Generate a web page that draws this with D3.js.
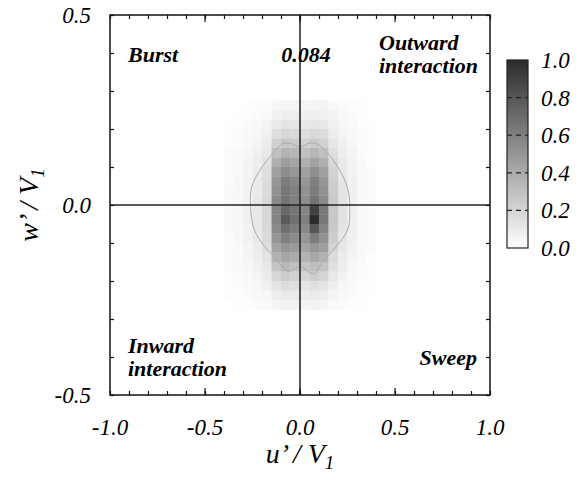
<!DOCTYPE html>
<html>
<head>
<meta charset="utf-8">
<script src="https://cdn.jsdelivr.net/npm/d3@7"></script>
<style>
  body { margin: 0; background: #fff; }
  text { font-family: "Liberation Serif", "Times New Roman", serif; }
</style>
</head>
<body>
<div id="canvas"></div>
<script>
// left edges of the u' bins (width 0.05) and top edges of the w' bins (height 0.025)
const uBins = [-0.4, -0.35, -0.3, -0.25, -0.2, -0.15, -0.1, -0.05, 0, 0.05, 0.1, 0.15, 0.2, 0.25, 0.3, 0.35];
const wBins = [0.275, 0.25, 0.225, 0.2, 0.175, 0.15, 0.125, 0.1, 0.075, 0.05, 0.025, 0,
               -0.025, -0.05, -0.075, -0.1, -0.125, -0.15, -0.175, -0.2, -0.225, -0.25];
// normalised joint pdf, percent, one row per w' bin
const pdf = [
  [0,0,1,1,2,4,5,5,5,5,5,3,2,1,1,0],
  [0,1,1,2,3,6,8,8,7,8,7,5,3,2,1,0],
  [1,1,2,3,5,10,13,12,11,12,11,7,4,3,1,1],
  [1,2,3,4,7,15,19,18,16,18,16,9,5,3,2,1],
  [1,2,3,5,9,22,27,25,22,25,22,12,7,4,2,1],
  [2,3,4,7,11,30,36,34,30,34,30,15,8,5,2,1],
  [2,3,5,8,13,38,46,42,38,44,38,18,10,6,3,1],
  [2,3,5,9,15,45,54,50,45,53,45,21,11,6,3,2],
  [2,4,6,10,16,50,62,57,50,60,50,23,12,7,3,2],
  [3,4,6,10,17,52,65,60,52,62,52,24,13,7,3,2],
  [3,4,6,11,18,55,66,60,54,66,55,25,13,7,3,2],
  [3,4,7,11,19,58,72,65,58,90,64,26,14,7,3,2],
  [3,4,7,11,19,58,78,68,60,100,64,26,14,7,3,2],
  [3,4,6,11,18,55,68,62,56,80,58,25,13,7,3,2],
  [2,4,6,10,17,50,60,55,50,62,52,23,12,7,3,2],
  [2,3,5,9,15,43,50,48,43,50,45,21,11,6,3,2],
  [2,3,5,8,13,36,42,40,36,41,36,17,9,5,3,1],
  [2,3,4,7,11,28,33,30,28,31,28,14,8,4,2,1],
  [1,2,3,5,9,19,24,22,20,23,20,11,6,3,2,1],
  [1,2,3,4,7,13,16,15,13,15,13,8,4,3,1,1],
  [1,1,2,3,4,8,10,10,9,10,9,5,3,2,1,0],
  [0,1,1,2,3,5,6,6,5,6,5,3,2,1,1,0]
];
// outer contour line [u', w']
const contour = [
  [0, 0.153], [0.07, 0.164], [0.14, 0.14], [0.219, 0.083], [0.256, 0.031],
  [0.262, -0.02], [0.25, -0.066], [0.19, -0.11], [0.125, -0.145], [0.088, -0.175],
  [0.06, -0.18], [0, -0.162], [-0.055, -0.174], [-0.085, -0.166], [-0.14, -0.135],
  [-0.205, -0.097], [-0.246, -0.057], [-0.26, -0.004], [-0.254, 0.048], [-0.21, 0.092],
  [-0.158, 0.127], [-0.114, 0.153], [-0.079, 0.163], [-0.035, 0.16]
];
const xTicks = [-1.0, -0.5, 0.0, 0.5, 1.0];
const yTicks = [-0.5, 0.0, 0.5];
const barTicks = [0.0, 0.2, 0.4, 0.6, 0.8, 1.0];

const svg = d3.select("#canvas").append("svg")
    .attr("width", 586)
    .attr("height", 480);

const x = d3.scaleLinear().domain([-1, 1]).range([110, 490]);
const y = d3.scaleLinear().domain([-0.5, 0.5]).range([395, 15]);
const color = d3.scaleLinear().domain([0, 1]).range(["#ffffff", "#2c2c2c"]).clamp(true);

// heatmap cells
const cells = [];
wBins.forEach(function (w, i) {
    uBins.forEach(function (u, j) {
        cells.push({u: u, w: w, v: pdf[i][j] / 100});
    });
});
svg.append("g").selectAll("rect")
    .data(cells)
    .join("rect")
    .attr("x", d => x(d.u))
    .attr("y", d => y(d.w))
    .attr("width", x(0.05) - x(0) + 0.3)
    .attr("height", y(0) - y(0.025) + 0.3)
    .attr("fill", d => color(d.v));

svg.append("path")
    .datum(contour)
    .attr("d", d3.line().x(d => x(d[0])).y(d => y(d[1])).curve(d3.curveCardinalClosed))
    .attr("fill", "none")
    .attr("stroke", "#aaa")
    .attr("stroke-width", 1);

// quadrant lines
svg.append("line")
    .attr("x1", x(0)).attr("x2", x(0)).attr("y1", y(0.5)).attr("y2", y(-0.5))
    .attr("stroke", "#222").attr("stroke-width", 1.5);
svg.append("line")
    .attr("x1", x(-1)).attr("x2", x(1)).attr("y1", y(0)).attr("y2", y(0))
    .attr("stroke", "#222").attr("stroke-width", 1.5);

// frame with inward ticks
const xAxisB = d3.axisTop(x).ticks(20).tickSize(4).tickFormat("");
const xAxisT = d3.axisBottom(x).ticks(20).tickSize(4).tickFormat("");
const yAxisL = d3.axisRight(y).ticks(10).tickSize(4).tickFormat("");
const yAxisR = d3.axisLeft(y).ticks(10).tickSize(4).tickFormat("");
[[xAxisB, "translate(0,395)"], [xAxisT, "translate(0,15)"],
 [yAxisL, "translate(110,0)"], [yAxisR, "translate(490,0)"]].forEach(function (a) {
    const g = svg.append("g").attr("transform", a[1]).call(a[0]);
    g.select(".domain").remove();
    g.selectAll("line").attr("stroke", "#111").attr("stroke-width", 1.2);
});
// longer ticks at the labelled values
svg.append("g").selectAll("line").data(xTicks.slice(1, 4)).join("line")
    .attr("x1", d => x(d)).attr("x2", d => x(d)).attr("y1", 395).attr("y2", 388)
    .attr("stroke", "#111").attr("stroke-width", 1.2);
svg.append("g").selectAll("line").data(xTicks.slice(1, 4)).join("line")
    .attr("x1", d => x(d)).attr("x2", d => x(d)).attr("y1", 15).attr("y2", 22)
    .attr("stroke", "#111").attr("stroke-width", 1.2);
svg.append("rect")
    .attr("x", 110).attr("y", 15).attr("width", 380).attr("height", 380)
    .attr("fill", "none").attr("stroke", "#111").attr("stroke-width", 1.5);

// tick labels
svg.append("g").selectAll("text").data(xTicks).join("text")
    .attr("x", d => x(d)).attr("y", 435)
    .attr("text-anchor", "middle")
    .style("font-size", "23px").style("font-style", "italic")
    .text(d => d.toFixed(1));
svg.append("g").selectAll("text").data(yTicks).join("text")
    .attr("x", 91).attr("y", d => y(d) + 8)
    .attr("text-anchor", "end")
    .style("font-size", "23px").style("font-style", "italic")
    .text(d => d.toFixed(1));

// axis titles
const xt = svg.append("text").attr("x", 300).attr("y", 463).attr("text-anchor", "middle")
    .style("font-size", "28px").style("font-style", "italic");
xt.append("tspan").text("u’ / V");
xt.append("tspan").attr("dy", 6).style("font-size", "19px").text("1");
const yt = svg.append("text").attr("transform", "translate(38,205) rotate(-90)")
    .attr("text-anchor", "middle")
    .style("font-size", "28px").style("font-style", "italic");
yt.append("tspan").text("w’ / V");
yt.append("tspan").attr("dy", 6).style("font-size", "19px").text("1");

// quadrant labels, one text per line
function label(lines, px, py, anchor) {
    lines.forEach(function (s, i) {
        svg.append("text").attr("text-anchor", anchor)
            .attr("x", px).attr("y", py + i * 23)
            .style("font-size", "22px").style("font-style", "italic").style("font-weight", "bold")
            .text(s);
    });
}
label(["Burst"], 128, 62, "start");
label(["0.084"], 306, 62, "middle");
label(["Outward", "interaction"], 379, 50, "start");
label(["Inward", "interaction"], 128, 353, "start");
label(["Sweep"], 477, 365, "end");

// colour bar
const cb = d3.scaleLinear().domain([0, 1]).range([248, 60]);
const defs = svg.append("defs");
const grad = defs.append("linearGradient").attr("id", "bar")
    .attr("x1", 0).attr("x2", 0).attr("y1", 1).attr("y2", 0);
grad.append("stop").attr("offset", 0).attr("stop-color", color(0));
grad.append("stop").attr("offset", 1).attr("stop-color", color(1));
svg.append("rect")
    .attr("x", 507).attr("y", 60).attr("width", 21).attr("height", 188)
    .attr("fill", "url(#bar)").attr("stroke", "#222").attr("stroke-width", 1.2);
svg.append("g").selectAll("line").data(barTicks.slice(1, 5)).join("line")
    .attr("x1", 507).attr("x2", 528).attr("y1", d => cb(d)).attr("y2", d => cb(d))
    .attr("stroke", "#222").attr("stroke-width", 1.2).attr("stroke-dasharray", "5,4");
svg.append("g").selectAll("text").data(barTicks).join("text")
    .attr("x", 541).attr("y", d => cb(d) + 8)
    .style("font-size", "23px").style("font-style", "italic")
    .text(d => d.toFixed(1));
</script>
</body>
</html>
